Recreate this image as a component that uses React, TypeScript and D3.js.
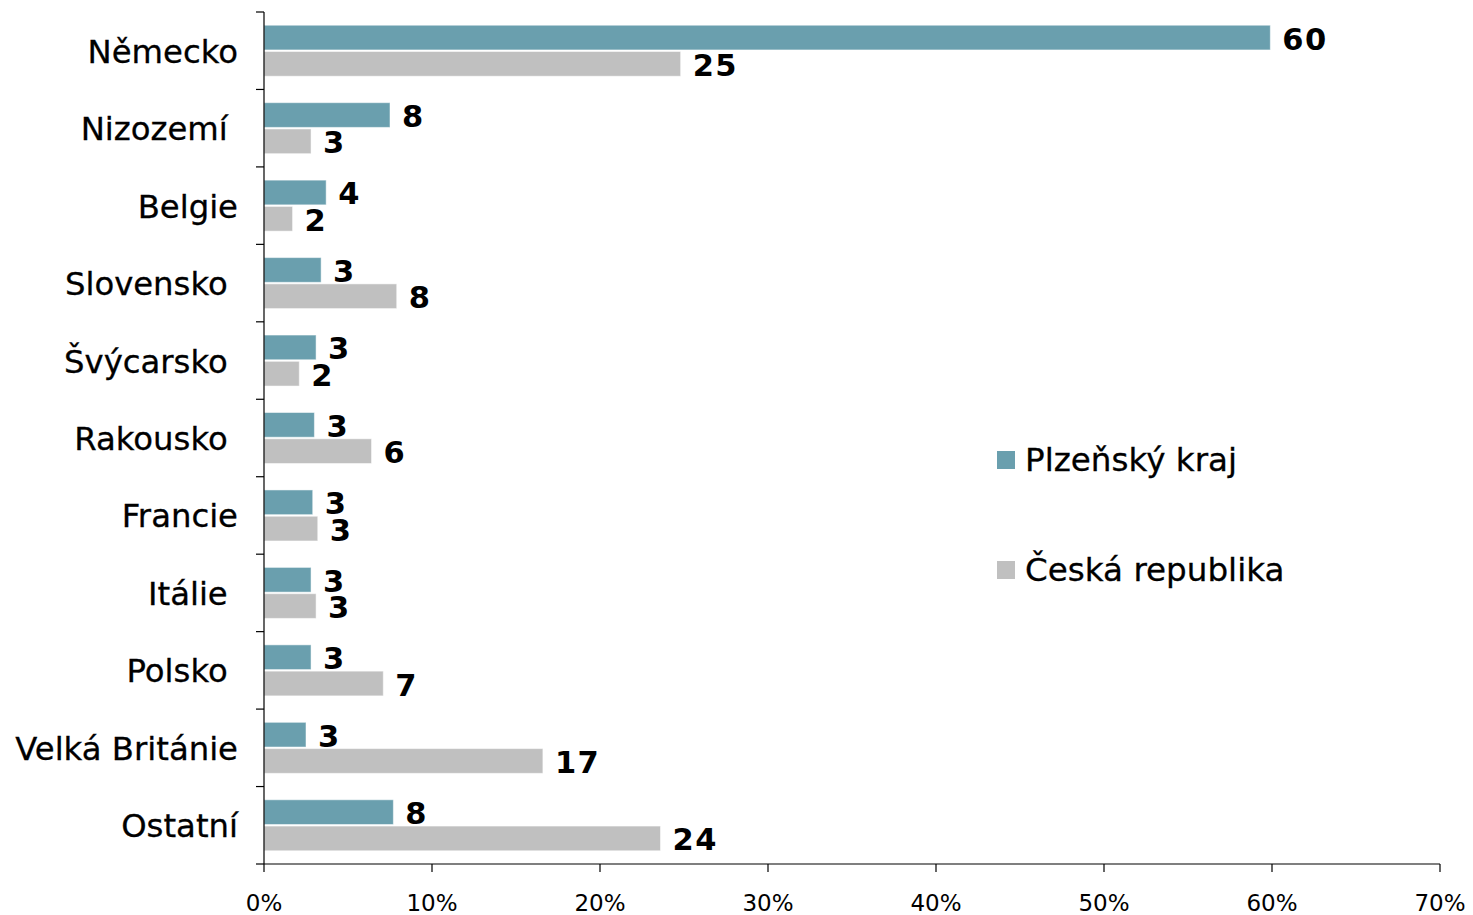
import React from "react";
import * as d3 from "d3";

const categories = [
  "Německo",
  "Nizozemí ",
  "Belgie",
  "Slovensko ",
  "Švýcarsko ",
  "Rakousko ",
  "Francie",
  "Itálie ",
  "Polsko ",
  "Velká Británie",
  "Ostatní",
];
const plzenskyKraj = [59.9, 7.5, 3.7, 3.4, 3.1, 3.0, 2.9, 2.8, 2.8, 2.5, 7.7];
const ceskaRepublika = [24.8, 2.8, 1.7, 7.9, 2.1, 6.4, 3.2, 3.1, 7.1, 16.6, 23.6];
const seriesNames = ["Plzeňský kraj", "Česká republika"];
const seriesColors = ["#6A9FAE", "#C0C0C0"];
const xTicks = [0, 10, 20, 30, 40, 50, 60, 70];

const W = 1473;
const H = 915;
const FONT = "'DejaVu Sans', Verdana, sans-serif";

export default function App() {
  const x = d3.scaleLinear().domain([0, 70]).range([264, 1440]);
  const y0 = d3.scaleBand<string>().domain(categories).range([12, 864]).padding(0);
  const series = [plzenskyKraj, ceskaRepublika];
  const bw = y0.bandwidth();
  const boundaries = d3.range(categories.length + 1).map((i) => 12 + i * bw);

  return (
    <svg
      width={W}
      height={H}
      style={{ position: "absolute", left: 0, top: 0, background: "#fff" }}
      fontFamily={FONT}
    >
      {categories.map((c, i) => {
        const center = (y0(c) as number) + bw / 2;
        const y1 = d3
          .scaleBand<number>()
          .domain([0, 1])
          .range([center - 25.5, center + 25.5])
          .paddingInner(0.06);
        return (
          <g key={c}>
            <text
              x={238}
              y={center + 12}
              textAnchor="end"
              fontSize={32.3}
              fill="#000"
              stroke="#000"
              strokeWidth={0.3}
              style={{ whiteSpace: "pre" }}
            >
              {c}
            </text>
            {series.map((vals, s) => {
              const yy = y1(s) as number;
              const v = vals[i];
              return (
                <g key={s}>
                  <rect
                    x={x(0)}
                    y={yy}
                    width={x(v) - x(0)}
                    height={y1.bandwidth()}
                    fill={seriesColors[s]}
                    stroke="#ffffff"
                    strokeOpacity={0.5}
                    strokeWidth={1}
                  />
                  <text
                    x={x(v) + 12}
                    y={yy + y1.bandwidth() / 2 + 12}
                    fontSize={30.5}
                    fontWeight="bold"
                    letterSpacing={1.5}
                    fill="#000"
                  >
                    {Math.round(v)}
                  </text>
                </g>
              );
            })}
          </g>
        );
      })}

      {/* y axis */}
      <line x1={264} x2={264} y1={12} y2={864} stroke="#000" strokeWidth={1.2} />
      {boundaries.map((b, i) => (
        <line key={i} x1={256} x2={264} y1={b} y2={b} stroke="#000" strokeWidth={1.2} />
      ))}

      {/* x axis */}
      <line x1={264} x2={1440} y1={864} y2={864} stroke="#000" strokeWidth={1.2} />
      {xTicks.map((t) => (
        <g key={t}>
          <line x1={x(t)} x2={x(t)} y1={864} y2={872} stroke="#000" strokeWidth={1.2} />
          <text x={x(t)} y={910.5} textAnchor="middle" fontSize={23} fill="#000">
            {`${t}%`}
          </text>
        </g>
      ))}

      {/* legend */}
      {seriesNames.map((n, s) => {
        const ly = 451 + s * 110;
        return (
          <g key={n}>
            <rect x={997} y={ly} width={18} height={18} fill={seriesColors[s]} />
            <text
              x={1025}
              y={ly + 20}
              fontSize={32.6}
              fill="#000"
              stroke="#000"
              strokeWidth={0.3}
            >
              {n}
            </text>
          </g>
        );
      })}
    </svg>
  );
}
